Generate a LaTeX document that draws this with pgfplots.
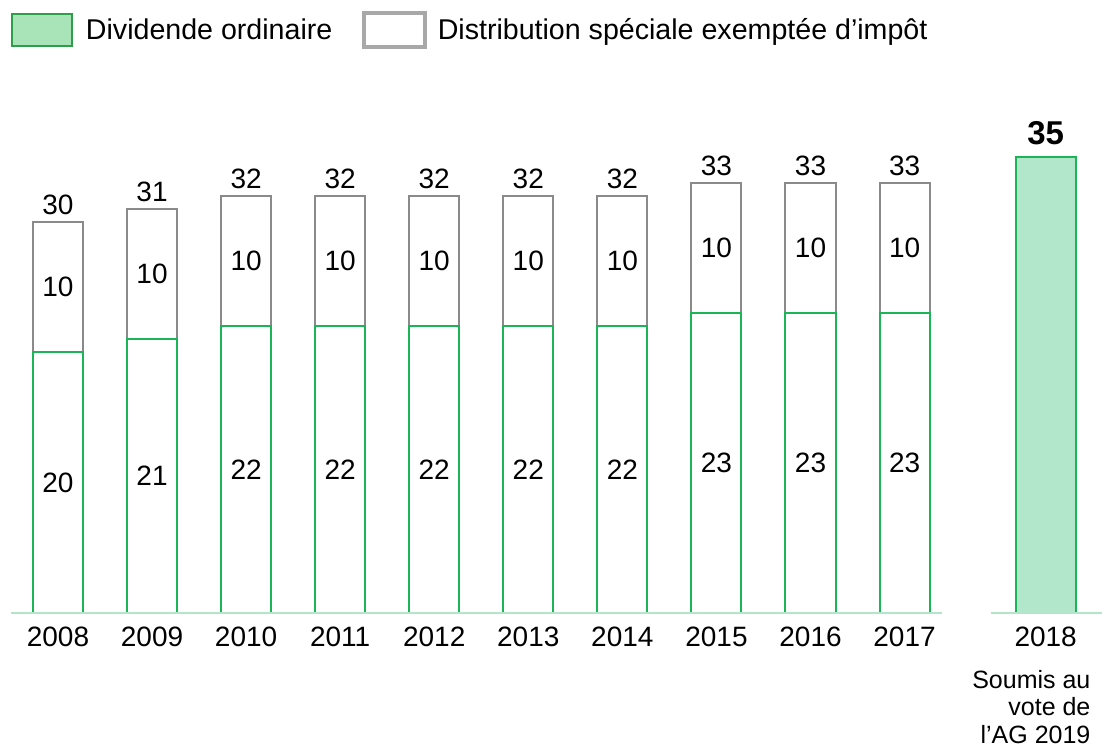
\documentclass[border=0pt]{standalone}
\usepackage{pgfplots}
\pgfplotsset{compat=1.18}
\usepackage{fontspec}
\setmainfont{Liberation Sans}
\definecolor{grn}{HTML}{19B556}
\definecolor{mint}{HTML}{B3E7CC}
\definecolor{legmint}{HTML}{A9E4B9}
\definecolor{leggreen}{HTML}{2E9E4A}
\definecolor{basecol}{HTML}{B2E5C9}
\definecolor{gry}{HTML}{8A8A8A}
\definecolor{leggry}{HTML}{A8A8A8}
\newcommand{\lab}{\fontsize{14}{16}\selectfont}
\pgfplotsset{common/.style={scale only axis, width=555pt, height=377.5pt,
  xmin=-0.6166, xmax=11.184, ymin=-10.90, ymax=47.05, hide axis, clip=false}}
\begin{document}
\begin{tikzpicture}
\useasboundingbox (0,0) rectangle (555pt,377.5pt);
\begin{axis}[common, ybar stacked, bar width=0.532]
\addplot[draw=grn, fill=white, line width=1pt] coordinates {(0,20) (1,21) (2,22) (3,22) (4,22) (5,22) (6,22) (7,23) (8,23) (9,23)};
\addplot[draw=gry, fill=white, line width=1pt] coordinates {(0,10) (1,10) (2,10) (3,10) (4,10) (5,10) (6,10) (7,10) (8,10) (9,10)};
\end{axis}
\begin{axis}[common,
  legend style={at={(axis description cs:0.0095,0.960)}, anchor=west, draw=none, fill=none,
    inner sep=0pt, outer sep=0pt, font=\fontsize{14.3}{16}\selectfont, legend columns=2,
    /tikz/every even column/.append style={column sep=13pt}},
  legend cell align=left]
\addlegendimage{legend image code/.code={\draw[fill=legmint, draw=leggreen, line width=1pt] (0.5pt,-8pt) rectangle (30.5pt,8pt); \path (35.5pt,0pt);}}
\addlegendentry{Dividende ordinaire}
\addlegendimage{legend image code/.code={\draw[fill=white, draw=leggry, line width=2pt] (1pt,-8.5pt) rectangle (31.5pt,8.5pt); \path (35.5pt,0pt);}}
\addlegendentry{Distribution spéciale exemptée d’impôt}
% 2018 bar
\addplot[forget plot, ybar, bar width=0.638, draw=grn, fill=mint, line width=1pt] coordinates {(10.5,35)};
% baselines
\draw[basecol, line width=1.25pt] (axis cs:-0.5,0) -- (axis cs:9.40,0);
\draw[basecol, line width=1.25pt] (axis cs:9.92,0) -- (axis cs:11.10,0);
% ordinary labels
\addplot[forget plot, draw=none, mark=none, point meta=explicit symbolic, nodes near coords,
  every node near coord/.style={anchor=center, font=\lab, text=black}]
  coordinates {(0,10)[20] (1,10.5)[21] (2,11)[22] (3,11)[22] (4,11)[22] (5,11)[22] (6,11)[22] (7,11.5)[23] (8,11.5)[23] (9,11.5)[23]};
% special labels
\addplot[forget plot, draw=none, mark=none, point meta=explicit symbolic, nodes near coords,
  every node near coord/.style={anchor=center, font=\lab, text=black}]
  coordinates {(0,25)[10] (1,26)[10] (2,27)[10] (3,27)[10] (4,27)[10] (5,27)[10] (6,27)[10] (7,28)[10] (8,28)[10] (9,28)[10]};
% totals
\addplot[forget plot, draw=none, mark=none, point meta=explicit symbolic, nodes near coords,
  every node near coord/.style={anchor=south, font=\lab, text=black}]
  coordinates {(0,30)[30] (1,31)[31] (2,32)[32] (3,32)[32] (4,32)[32] (5,32)[32] (6,32)[32] (7,33)[33] (8,33)[33] (9,33)[33]};
\addplot[forget plot, draw=none, mark=none, point meta=explicit symbolic, nodes near coords,
  every node near coord/.style={anchor=south, yshift=2.5pt, font=\fontsize{16.5}{18}\selectfont\bfseries, text=black}]
  coordinates {(10.5,35)[35]};
% year labels
\addplot[forget plot, draw=none, mark=none, point meta=explicit symbolic, nodes near coords,
  every node near coord/.style={anchor=center, font=\lab, text=black}]
  coordinates {(0,-1.84)[2008] (1,-1.84)[2009] (2,-1.84)[2010] (3,-1.84)[2011] (4,-1.84)[2012] (5,-1.84)[2013] (6,-1.84)[2014] (7,-1.84)[2015] (8,-1.84)[2016] (9,-1.84)[2017] (10.5,-1.84)[2018]};
\node[anchor=north east, align=right, inner sep=0pt, font=\fontsize{12.5}{13.75}\selectfont, text=black]
  at (axis cs:10.98,-4.37) {Soumis au\\vote de\\l’AG 2019};
\end{axis}
\end{tikzpicture}
\end{document}
